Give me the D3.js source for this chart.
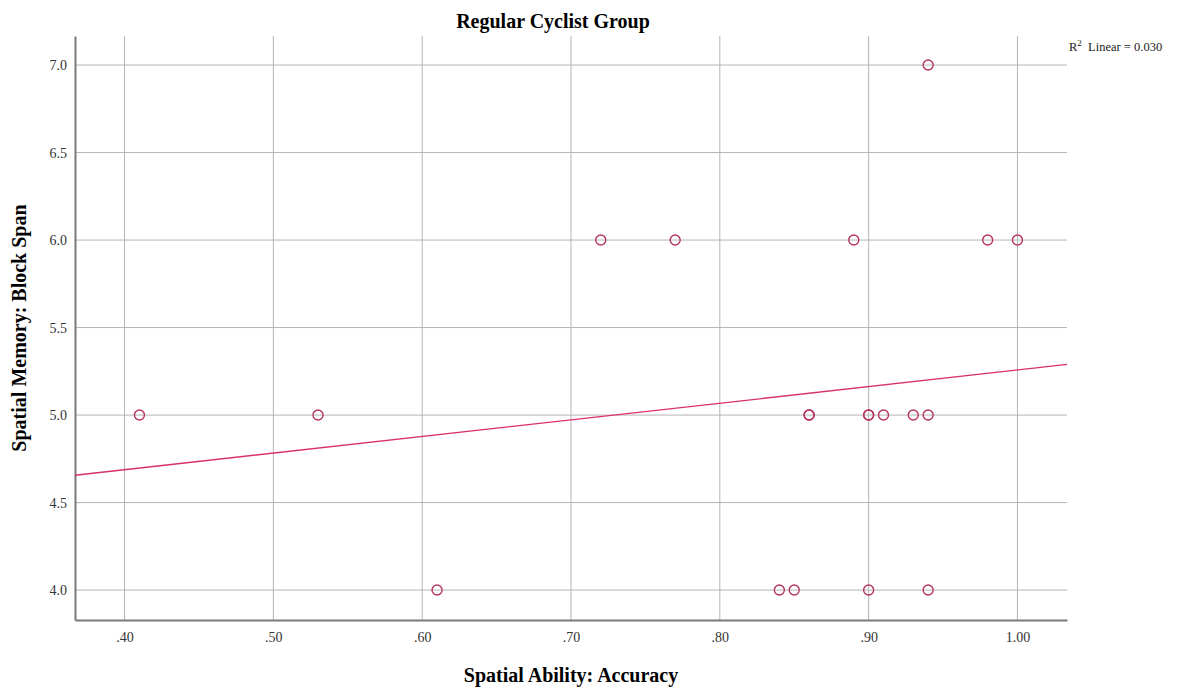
<!DOCTYPE html>
<html>
<head>
<meta charset="utf-8">
<script src="https://cdn.jsdelivr.net/npm/d3@7"></script>
<style>
  body { margin: 0; background: #fff; }
  text { font-family: "Liberation Serif", "DejaVu Serif", serif; }
</style>
</head>
<body>
<svg id="chart"></svg>
<script>
// spatial ability accuracy (x) and block span (y) per participant
var accuracy = [.41, .53, .86, .86, .90, .90, .91, .93, .94,
                .72, .77, .89, .98, 1.00,
                .94,
                .61, .84, .85, .90, .94]
var blockSpan = [5, 5, 5, 5, 5, 5, 5, 5, 5,
                 6, 6, 6, 6, 6,
                 7,
                 4, 4, 4, 4, 4]
var xTicks = [.40, .50, .60, .70, .80, .90, 1.00]
var yTicks = [4.0, 4.5, 5.0, 5.5, 6.0, 6.5, 7.0]

var dimensions = { width: 1196, height: 691 }
var plot = { left: 75, right: 1067, top: 36, bottom: 620 }

var svg = d3.select("#chart")
  .attr("width", dimensions.width)
  .attr("height", dimensions.height)

var x = d3.scaleLinear().domain([0.3667, 1.0333]).range([plot.left, plot.right])
var y = d3.scaleLinear().domain([3.829, 7.166]).range([plot.bottom, plot.top])

// grid lines
svg.append("g").selectAll("line")
  .data(xTicks).join("line")
  .attr("x1", d => x(d)).attr("x2", d => x(d))
  .attr("y1", plot.top).attr("y2", plot.bottom)
  .attr("stroke", "#b4b4b4").attr("stroke-width", 1)

svg.append("g").selectAll("line")
  .data(yTicks).join("line")
  .attr("x1", plot.left).attr("x2", plot.right)
  .attr("y1", d => y(d)).attr("y2", d => y(d))
  .attr("stroke", "#b4b4b4").attr("stroke-width", 1)

// axes
var xAxis = svg.append("g")
  .attr("transform", "translate(0," + plot.bottom + ")")
  .call(d3.axisBottom(x).tickValues(xTicks).tickSize(0).tickPadding(12)
    .tickFormat(d => d3.format(".2f")(d).replace(/^0/, "")))
var yAxis = svg.append("g")
  .attr("transform", "translate(" + plot.left + ",0)")
  .call(d3.axisLeft(y).tickValues(yTicks).tickSize(0).tickPadding(8)
    .tickFormat(d3.format(".1f")))

xAxis.select(".domain").attr("stroke", "#7a7a7a").attr("stroke-width", 2)
yAxis.select(".domain").attr("stroke", "#7a7a7a").attr("stroke-width", 2)
svg.selectAll(".tick text")
  .attr("font-family", "Liberation Serif, serif")
  .attr("font-size", 14).attr("fill", "#333")

// linear fit
var mx = d3.mean(accuracy), my = d3.mean(blockSpan)
var sxy = d3.sum(accuracy, (d, i) => (d - mx) * (blockSpan[i] - my))
var sxx = d3.sum(accuracy, d => (d - mx) * (d - mx))
var slope = sxy / sxx
var fit = x.domain().map(d => [d, my + slope * (d - mx)])

svg.append("path")
  .datum(fit)
  .attr("d", d3.line().x(d => x(d[0])).y(d => y(d[1])))
  .attr("fill", "none")
  .attr("stroke", "#d9306a")
  .attr("stroke-width", 1.3)

// points
svg.append("g").selectAll("circle")
  .data(accuracy).join("circle")
  .attr("cx", d => x(d))
  .attr("cy", (d, i) => y(blockSpan[i]))
  .attr("r", 5)
  .attr("fill", "none")
  .attr("stroke", "#b4345c")
  .attr("stroke-width", 1.4)

// titles
svg.append("text")
  .attr("x", 553).attr("y", 28)
  .attr("text-anchor", "middle")
  .attr("font-size", 20).attr("font-weight", "bold")
  .text("Regular Cyclist Group")

svg.append("text")
  .attr("x", 571).attr("y", 682)
  .attr("text-anchor", "middle")
  .attr("font-size", 20).attr("font-weight", "bold")
  .text("Spatial Ability: Accuracy")

svg.append("text")
  .attr("transform", "translate(26," + ((plot.top + plot.bottom) / 2) + ") rotate(-90)")
  .attr("text-anchor", "middle")
  .attr("font-size", 20).attr("font-weight", "bold")
  .text("Spatial Memory: Block Span")

var r2 = svg.append("text")
  .attr("x", 1069).attr("y", 51)
  .attr("font-size", 12.5).attr("fill", "#222")
r2.append("tspan").text("R")
r2.append("tspan").attr("dy", -5).attr("font-size", 9).text("2")
r2.append("tspan").attr("dy", 5).text("  Linear = " + d3.format(".3f")(sxy * sxy / (sxx * d3.sum(blockSpan, d => (d - my) * (d - my)))))
  .attr("xml:space", "preserve")
</script>
</body>
</html>
